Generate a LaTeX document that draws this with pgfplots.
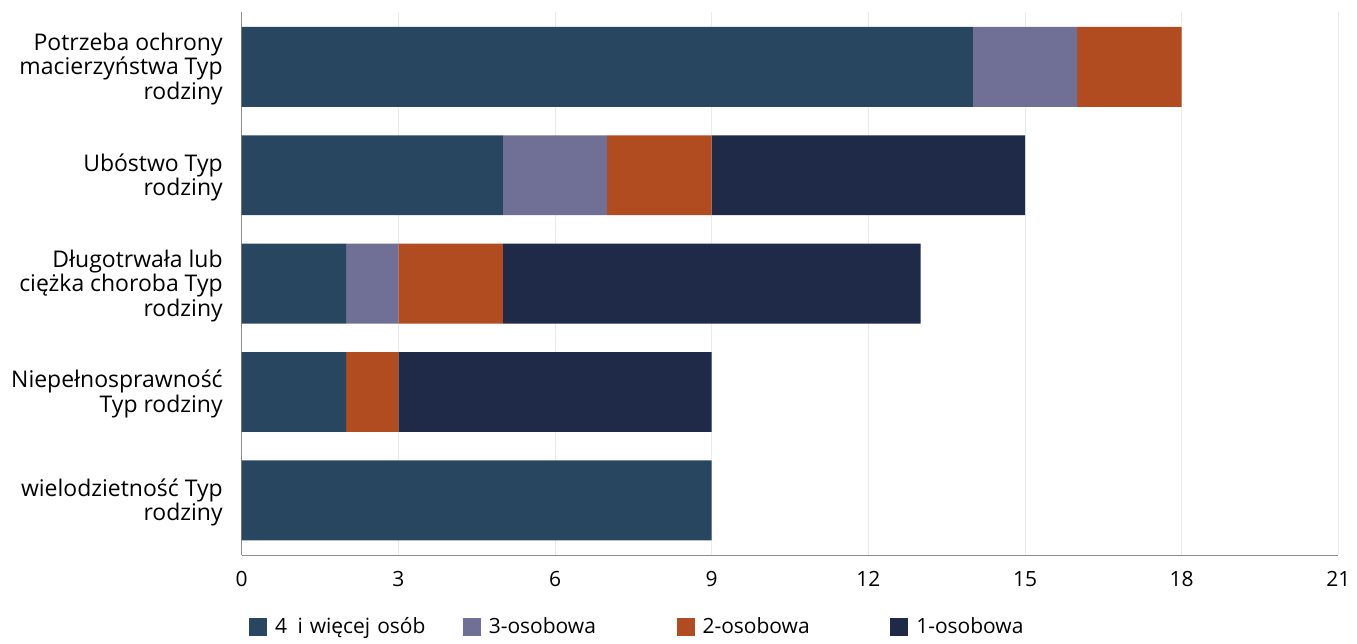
\documentclass[border=0pt]{standalone}
\usepackage{fontspec}
\setmainfont{Open Sans}
\usepackage{pgfplots}
\pgfplotsset{compat=1.18}
\definecolor{cfour}{RGB}{40,70,96}
\definecolor{cthree}{RGB}{112,112,150}
\definecolor{ctwo}{RGB}{176,76,32}
\definecolor{cone}{RGB}{30,42,72}
\begin{document}
\begin{tikzpicture}
\begin{axis}[
  xbar stacked,
  scale only axis,
  width=549pt, height=272pt,
  xmin=0, xmax=21, ymin=-0.507, ymax=4.507,
  bar width=40pt,
  xtick={0,3,6,9,12,15,18,21},
  ytick={0,1,2,3,4},
  yticklabels={{wielodzietność Typ\\rodziny},{Niepełnosprawność\\Typ rodziny},{Długotrwała lub\\ciężka choroba Typ\\rodziny},{Ubóstwo Typ\\rodziny},{Potrzeba ochrony\\macierzyństwa Typ\\rodziny}},
  yticklabel style={align=right, font=\fontsize{11.5}{12.25}\selectfont, xshift=-6pt, yshift=-1pt},
  xticklabel style={font=\fontsize{10.5}{12}\selectfont, yshift=-4.5pt},
  /pgf/number format/assume math mode=true,
  tick style={draw=none},
  axis x line*=bottom, axis y line*=left,
  axis line style={black!45},
  xmajorgrids, grid style={black!8},
  legend image code/.code={\fill[#1] (0pt,-4.5pt) rectangle (9pt,4.5pt);},
  legend style={at={(0.0073,-0.1268)}, anchor=west, xshift=-3.5pt, yshift=-1.5pt, draw=none, legend columns=4,
    font=\fontsize{10.5}{12}\selectfont,
    nodes={text width=92.5pt, align=left, inner sep=1.5pt},
    /tikz/every odd column/.append style={column sep=2.5pt}},
]
\addplot[fill=cfour, draw=none] coordinates {(9,0) (2,1) (2,2) (5,3) (14,4)};
\addplot[fill=cthree, draw=none] coordinates {(0,0) (0,1) (1,2) (2,3) (2,4)};
\addplot[fill=ctwo, draw=none] coordinates {(0,0) (1,1) (2,2) (2,3) (2,4)};
\addplot[fill=cone, draw=none] coordinates {(0,0) (6,1) (8,2) (6,3) (0,4)};
\legend{4\enspace i więcej osób, 3-osobowa, 2-osobowa, 1-osobowa}
\end{axis}
\path (current axis.south west) ++(-121pt,-40.5pt) rectangle ++(678.5pt,318.5pt);
\end{tikzpicture}
\end{document}
